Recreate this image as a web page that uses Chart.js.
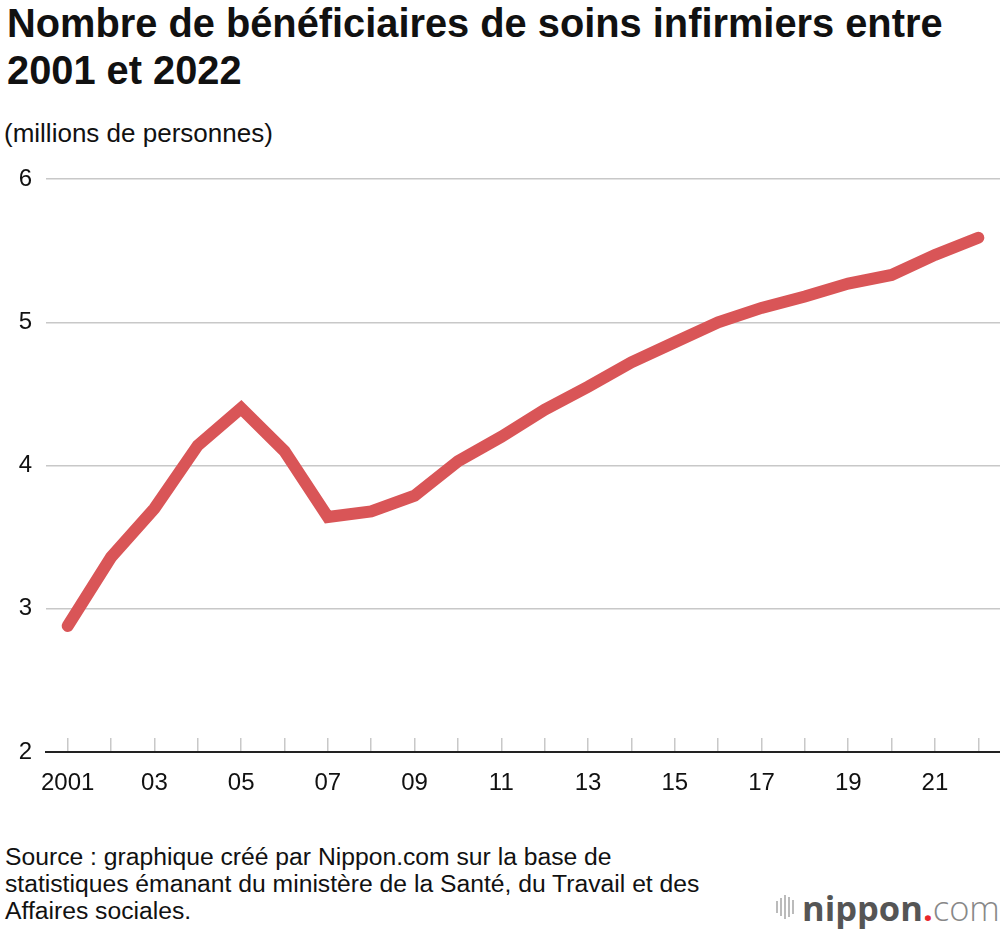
<!DOCTYPE html>
<html>
<head>
<meta charset="utf-8">
<script src="https://cdn.jsdelivr.net/npm/chart.js@4"></script>
<style>
  body { margin: 0; background: #fff; font-family: "Liberation Sans", Arial, sans-serif; color: #111; }
  #page { position: relative; width: 1000px; height: 930px; overflow: hidden; }
  #title { position: absolute; left: 7px; top: 0px; font-size: 39.8px; font-weight: bold; line-height: 47px; }
  #unit { position: absolute; left: 4px; top: 118px; font-size: 26px; }
  #wrap { position: absolute; left: 0; top: 160px; width: 1000px; height: 640px; }
  #source { position: absolute; left: 5px; top: 843px; font-size: 24.7px; line-height: 27px; }
  #logo { position: absolute; left: 776px; top: 887px; height: 40px; display: flex; align-items: center; }
  #bars { display: flex; align-items: center; gap: 2px; margin-right: 8px; }
  #bars span { display: block; width: 2px; background: #bbb; }
  #logo .n { font-family: "Open Sans", sans-serif; font-weight: bold; font-size: 34.5px; color: #555; }
  #logo .d { font-family: "Open Sans", sans-serif; font-weight: bold; font-size: 34.5px; color: #e8262b; }
  #logo .c { font-family: "Open Sans", sans-serif; font-weight: 300; font-size: 34.5px; color: #888; }
</style>
</head>
<body>
<div id="page">
  <div id="title">Nombre de bénéficiaires de soins infirmiers entre<br>2001 et 2022</div>
  <div id="unit">(millions de personnes)</div>
  <div id="wrap"><canvas id="chart"></canvas></div>
  <div id="source">Source : graphique créé par Nippon.com sur la base de<br>statistiques émanant du ministère de la Santé, du Travail et des<br>Affaires sociales.</div>
  <div id="logo">
    <div id="bars"><span style="height:12px"></span><span style="height:18px"></span><span style="height:24px"></span><span style="height:20px"></span><span style="height:14px"></span></div>
    <span class="n">nippon</span><span class="d">.</span><span class="c">com</span>
  </div>
</div>
<script>
// années (catégories)
const years = ['2001','2002','2003','2004','2005','2006','2007','2008','2009','2010','2011',
  '2012','2013','2014','2015','2016','2017','2018','2019','2020','2021','2022'];
// étiquettes de l'axe x (une sur deux)
const tickLabels = ['2001','','03','','05','','07','','09','','11',
  '','13','','15','','17','','19','','21',''];
// bénéficiaires, millions de personnes
const beneficiaires = [2.88, 3.36, 3.70, 4.14, 4.40, 4.10, 3.64, 3.68, 3.79, 4.03, 4.20,
  4.39, 4.55, 4.72, 4.86, 5.00, 5.10, 5.18, 5.27, 5.33, 5.47, 5.59];
const yTicks = [2, 3, 4, 5, 6];

const ctx = document.getElementById('chart');

new Chart(ctx, {
  type: 'line',
  data: {
    labels: years,
    datasets: [{
      data: beneficiaires,
      borderColor: '#d95557',
      borderWidth: 12,
      borderCapStyle: 'round',
      borderJoinStyle: 'miter',
      pointRadius: 0,
      tension: 0,
      fill: false
    }]
  },
  options: {
    responsive: true,
    maintainAspectRatio: false,
    animation: false,
    layout: { padding: { top: 19, right: 0, bottom: 0, left: 0 } },
    plugins: { legend: { display: false }, tooltip: { enabled: false } },
    scales: {
      x: {
        type: 'category',
        offset: true,
        afterFit: (scale) => {
          scale.height = 48;
          scale.paddingLeft = 0;
          scale.paddingRight = 0;
        },
        grid: {
          drawOnChartArea: false,
          drawTicks: true,
          tickLength: -14,
          color: '#c8c8c8',
          lineWidth: 1.5
        },
        border: { display: true, color: '#222', width: 2 },
        ticks: {
          autoSkip: false,
          maxRotation: 0,
          padding: 31,
          color: '#111',
          font: { family: '"Liberation Sans", Arial, sans-serif', size: 24 },
          callback: (v, i) => tickLabels[i]
        }
      },
      y: {
        min: 2,
        max: 6,
        afterFit: (scale) => {
          scale.width = 46;
          scale.paddingTop = 0;
          scale.paddingBottom = 0;
        },
        afterBuildTicks: (scale) => { scale.ticks = yTicks.map(v => ({ value: v })); },
        grid: { color: '#c8c8c8', lineWidth: 1.5, drawTicks: false },
        border: { display: false },
        ticks: {
          padding: 14,
          color: '#111',
          font: { family: '"Liberation Sans", Arial, sans-serif', size: 24 }
        }
      }
    }
  }
});
</script>
</body>
</html>
